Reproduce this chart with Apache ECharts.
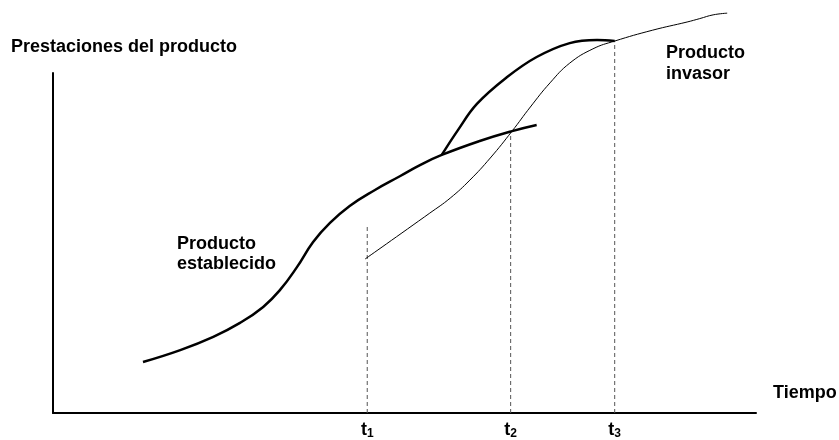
<!DOCTYPE html>
<html>
<head>
<meta charset="utf-8">
<script src="https://cdn.jsdelivr.net/npm/echarts@6/dist/echarts.min.js"></script>
<style>html,body{margin:0;padding:0;background:#fff}#c{width:839px;height:440px}</style>
</head>
<body>
<div id="c"></div>
<script>
// Producto establecido (curva gruesa)
const estX = [12.8, 18.1, 22.8, 26.6, 29.9, 32.3, 34.7, 37.0, 39.4, 42.2, 45.8, 49.4, 52.2, 55.3, 60.7, 65.3, 68.8];
const estY = [15.0, 18.5, 22.4, 26.5, 31.2, 36.2, 42.9, 50.3, 55.9, 60.9, 65.6, 69.7, 72.9, 75.9, 80.0, 82.9, 84.7];
// Producto invasor (curva fina)
const invX = [44.4, 53.6, 56.5, 59.3, 62.2, 65.3, 67.9, 70.7, 73.5, 76.8, 79.9, 85.3, 90.2, 92.0, 93.9, 95.9];
const invY = [45.3, 58.8, 63.2, 68.5, 75.0, 82.9, 90.0, 97.1, 102.9, 107.1, 109.4, 112.6, 115.0, 116.0, 117.1, 117.6];
// Envolvente (curva gruesa superior)
const envX = [55.3, 57.6, 60.3, 64.6, 68.8, 73.5, 77.4, 79.9];
const envY = [75.9, 83.2, 90.9, 98.8, 104.7, 108.8, 109.7, 109.4];
// Instantes t1, t2, t3
const tVals = [44.7, 65.1, 79.9];
const tTops = [55.3, 82.9, 109.4];
const tSubs = ['1', '2', '3'];

const zip = (xs, ys) => xs.map((x, i) => [x, ys[i]]);
const FONT = '"Liberation Sans", Arial, sans-serif';

const series = [
  { name: 'establecido', type: 'line', data: zip(estX, estY), smooth: 0.45, showSymbol: false, clip: false,
    lineStyle: { color: '#000', width: 2.5 } },
  { name: 'invasor', type: 'line', data: zip(invX, invY), smooth: 0.45, showSymbol: false, clip: false,
    lineStyle: { color: '#000', width: 1 } },
  { name: 'envolvente', type: 'line', data: zip(envX, envY), smooth: 0.4, showSymbol: false, clip: false,
    lineStyle: { color: '#000', width: 2.5 } }
];
tVals.forEach((t, i) => {
  series.push({ type: 'line', data: [[t, 0], [t, tTops[i]]], showSymbol: false, clip: false, z: 1,
    lineStyle: { color: '#555', width: 1, type: [4, 3] } });
});

const chart = echarts.init(document.getElementById('c'), null, { renderer: 'canvas' });
chart.setOption({
  animation: false,
  backgroundColor: '#fff',
  grid: { left: 53, right: 83, top: 73, bottom: 27, containLabel: false },
  xAxis: {
    type: 'value', min: 0, max: 100,
    axisLine: { show: true, onZero: false, lineStyle: { color: '#000', width: 2 } },
    axisTick: { show: false },
    splitLine: { show: false },
    axisLabel: {
      show: true, customValues: tVals, margin: 7,
      formatter: v => { const i = tVals.indexOf(v); return i < 0 ? '' : '{a|t}{b|' + tSubs[i] + '}'; },
      rich: {
        a: { fontFamily: FONT, fontWeight: 'bold', fontSize: 18, lineHeight: 20, color: '#000' },
        b: { fontFamily: FONT, fontWeight: 'bold', fontSize: 12, lineHeight: 10, verticalAlign: 'bottom', color: '#000' }
      }
    }
  },
  yAxis: {
    type: 'value', min: 0, max: 100,
    axisLine: { show: true, onZero: false, lineStyle: { color: '#000', width: 2 } },
    axisTick: { show: false },
    splitLine: { show: false },
    axisLabel: { show: false }
  },
  graphic: [
    { type: 'text', x: 11, y: 46.7, style: { text: 'Prestaciones del producto', font: 'bold 18px ' + FONT, fill: '#000', align: 'left', verticalAlign: 'middle' } },
    { type: 'text', x: 773, y: 392.7, style: { text: 'Tiempo', font: 'bold 18px ' + FONT, fill: '#000', align: 'left', verticalAlign: 'middle' } },
    { type: 'text', x: 177, y: 233.7, style: { text: 'Producto\nestablecido', font: 'bold 18px ' + FONT, lineHeight: 20, fill: '#000', align: 'left', verticalAlign: 'top' } },
    { type: 'text', x: 666, y: 42.2, style: { text: 'Producto\ninvasor', font: 'bold 18px ' + FONT, lineHeight: 21, fill: '#000', align: 'left', verticalAlign: 'top' } }
  ],
  series: series
});
</script>
</body>
</html>
